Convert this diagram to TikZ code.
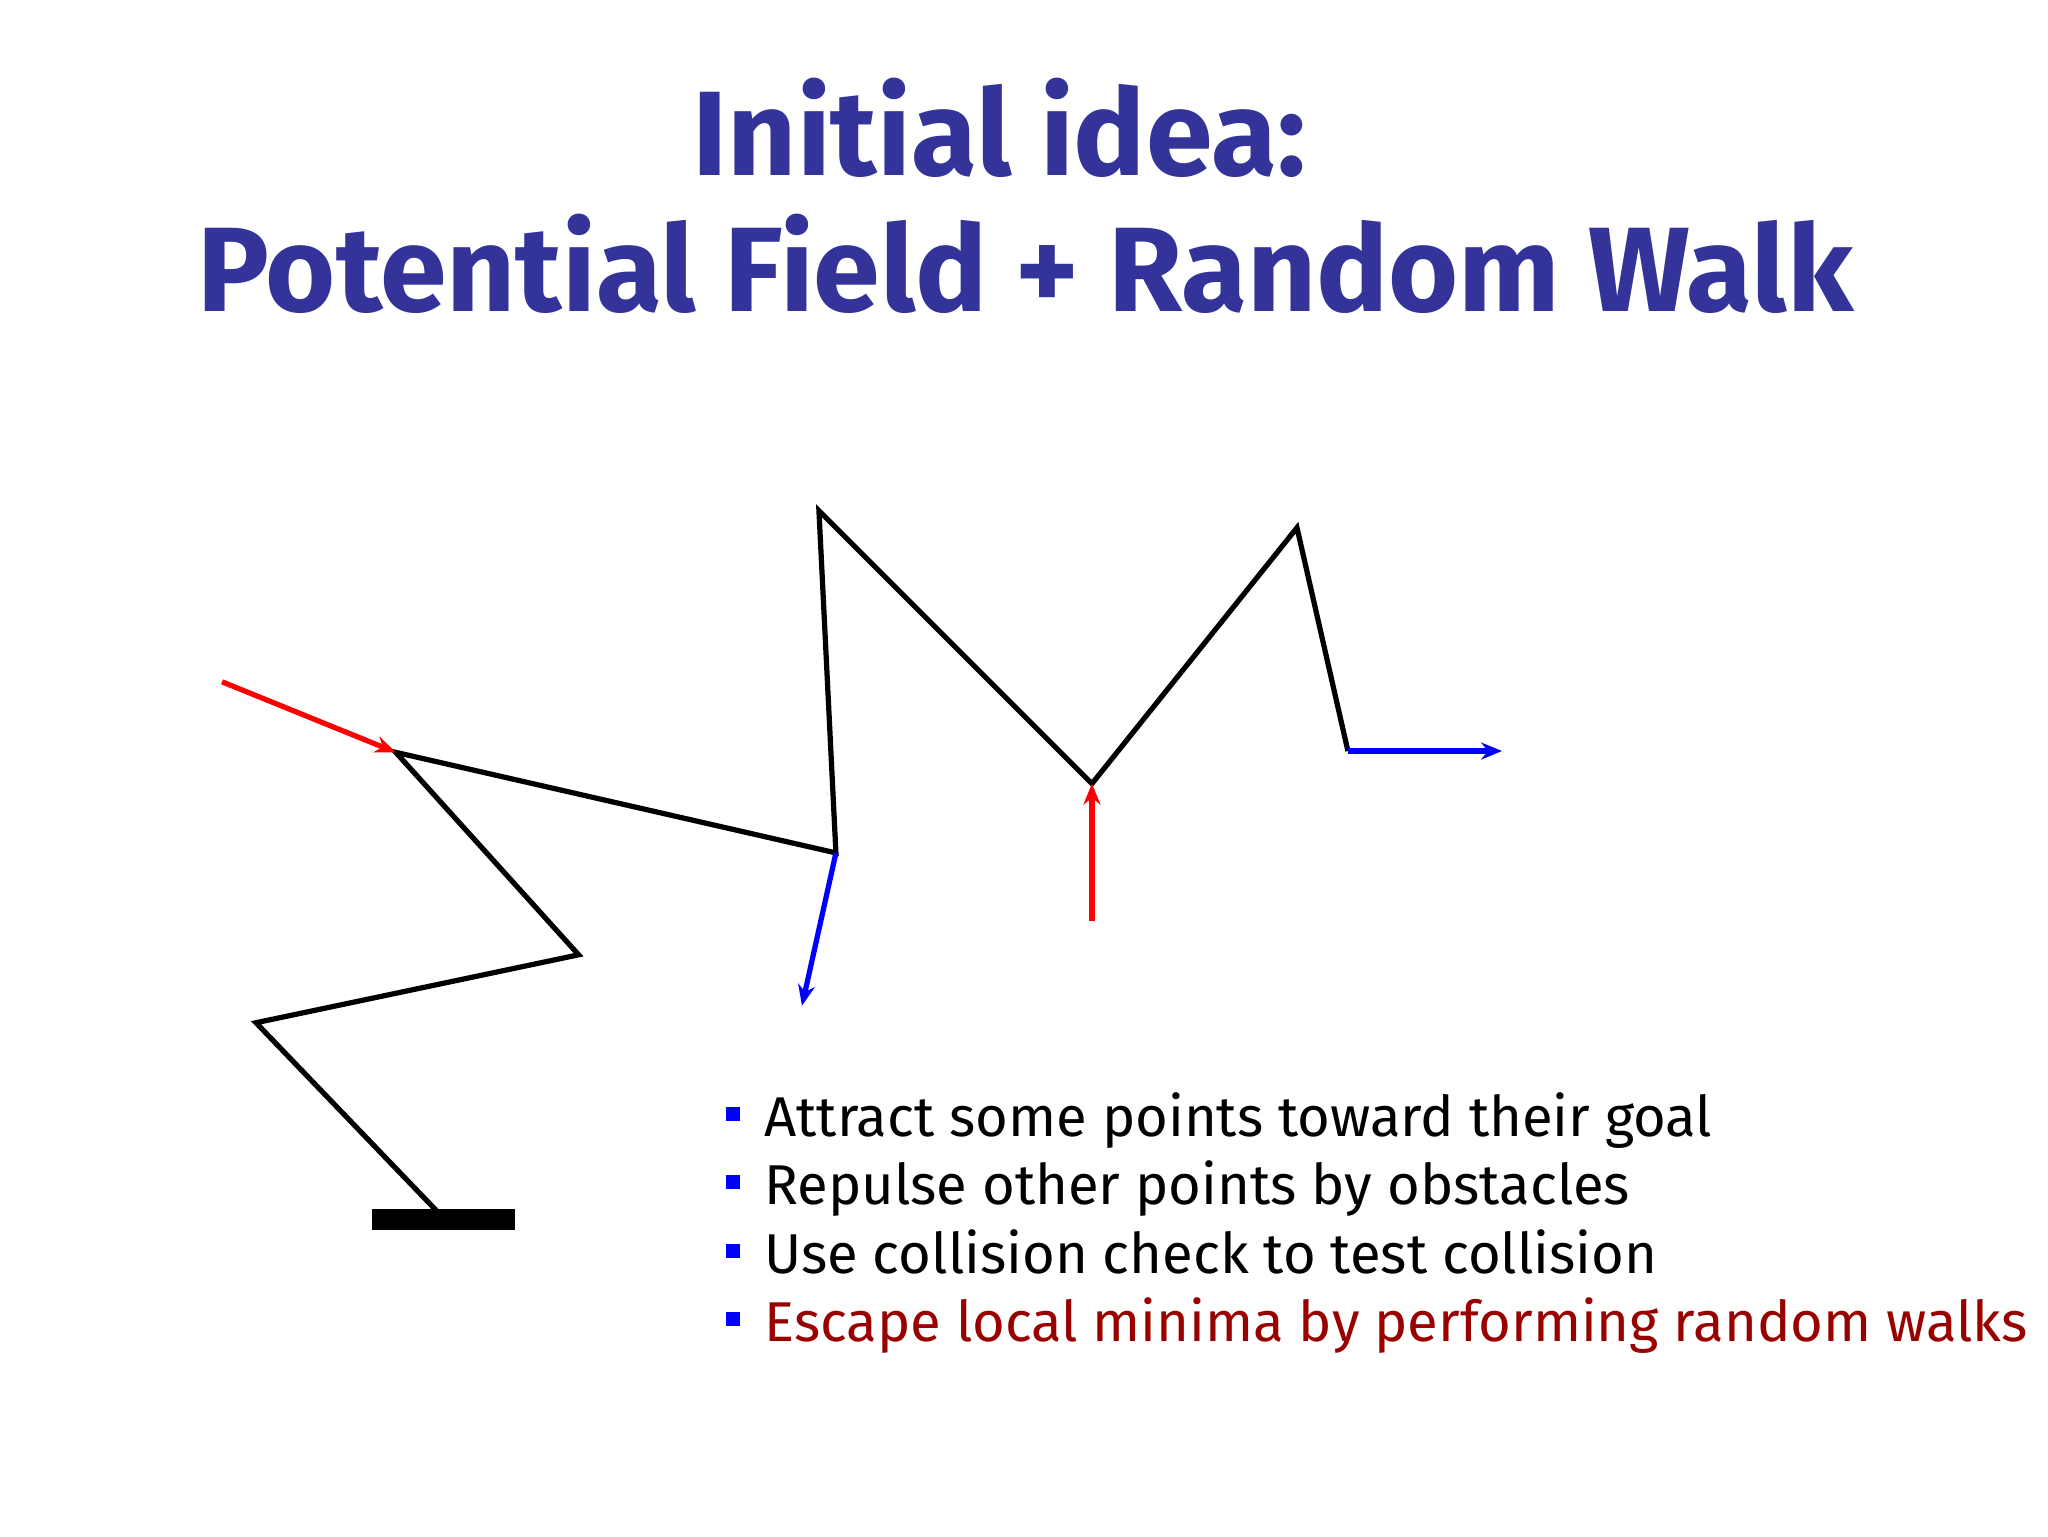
\documentclass[tikz,border=0pt]{standalone}
\usepackage{fontspec}
\setmainfont{Fira Sans}
\usetikzlibrary{arrows.meta}
\definecolor{titleblue}{RGB}{51,51,153}
\definecolor{darkred}{RGB}{153,0,0}
\begin{document}
\begin{tikzpicture}[x=1pt,y=-1pt,
  link/.style={line width=4pt,black,line join=miter},
  force/.style={line width=4pt,-{Stealth[length=16pt,width=13pt]}},
  bul/.style={fill=blue,minimum size=11pt,inner sep=0pt},
  btext/.style={anchor=base west,font=\fontsize{43}{47}\selectfont,inner sep=0pt}]
\useasboundingbox[fill=white] (0,0) rectangle (1568,1176);
\node[font=\bfseries\fontsize{92}{98}\selectfont,text=titleblue] (t1) at (765,98) {Initial idea:};
\node[font=\bfseries\fontsize{92}{98}\selectfont,text=titleblue] (t2) at (785,202) {Potential Field + Random Walk};
\coordinate (p0) at (340,933);
\coordinate (p1) at (196,783);
\coordinate (p2) at (443,731);
\coordinate (p3) at (303,576);
\coordinate (p4) at (640,653);
\coordinate (p5) at (627,391);
\coordinate (p6) at (836,600);
\coordinate (p7) at (993,404);
\coordinate (p8) at (1032,575);
\fill (285,926) rectangle (394,942);
\draw[link] (p0)--(p1)--(p2)--(p3)--(p4)--(p5)--(p6)--(p7)--(p8);
\coordinate (r1) at (170,522);
\coordinate (r2) at (836,705);
\coordinate (b1) at (614,770);
\coordinate (b2) at (1150,575);
\draw[force,red] (r1)--(p3);
\draw[force,red] (r2)--(p6);
\draw[force,blue] (p4)--(b1);
\draw[force,blue] (p8)--(b2);
\foreach \y/\t/\c [count=\i] in {870/Attract some points toward their goal/black,
 922/Repulse other points by obstacles/black,
 975/Use collision check to test collision/black,
 1027/Escape local minima by performing random walks/darkred}{
 \node[bul] (s\i) at (561,\y-17) {};
 \node[btext,text=\c] (l\i) at (585,\y) {\t};
}
\end{tikzpicture}
\end{document}
